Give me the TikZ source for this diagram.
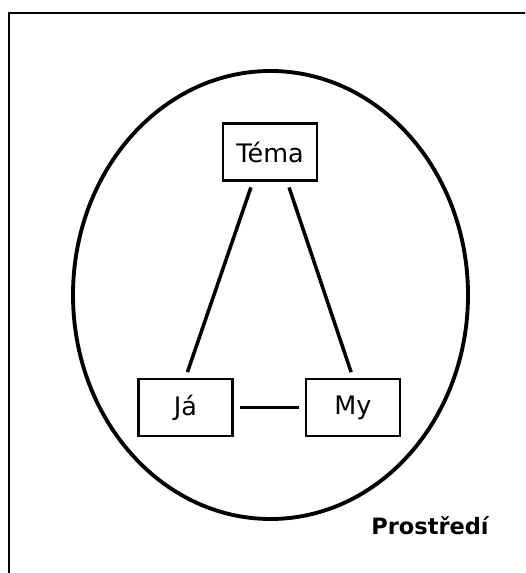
\documentclass[tikz,border=0pt]{standalone}
\usepackage{fontspec}
\setmainfont{DejaVu Sans}
\begin{document}
\begin{tikzpicture}[scale=1,
    box/.style={rectangle, draw, line width=1.4pt, minimum width=1.88cm, minimum height=1.14cm, font=\fontsize{14.5}{17}\selectfont},
    link/.style={line width=2pt, shorten >=0.12cm, shorten <=0.12cm}]
    \useasboundingbox (0,0) rectangle (10.5,11.46);
    \clip (0,0) rectangle (10.5,11.46);
    % frame and environment
    \draw[line width=1.4pt] (0.18,-0.5) rectangle (11,11.2);
    \draw[line width=2.2pt] (5.41,5.56) ellipse (3.95 and 4.48);

    \node (tema) at (5.4,8.42) [box] {Téma};
    \node (ja) at (3.71,3.31) [box] {Já};
    \node (my) at (7.06,3.31) [box] {My};
    \node (prostredi) at (8.6,0.94) [font=\bfseries\fontsize{12.8}{15}\selectfont] {Prostředí};

    \draw[link] (tema.240) -- (ja.north);
    \draw[link] (tema.300) -- (my.north);
    \draw[link] (ja) -- (my);
\end{tikzpicture}
\end{document}
